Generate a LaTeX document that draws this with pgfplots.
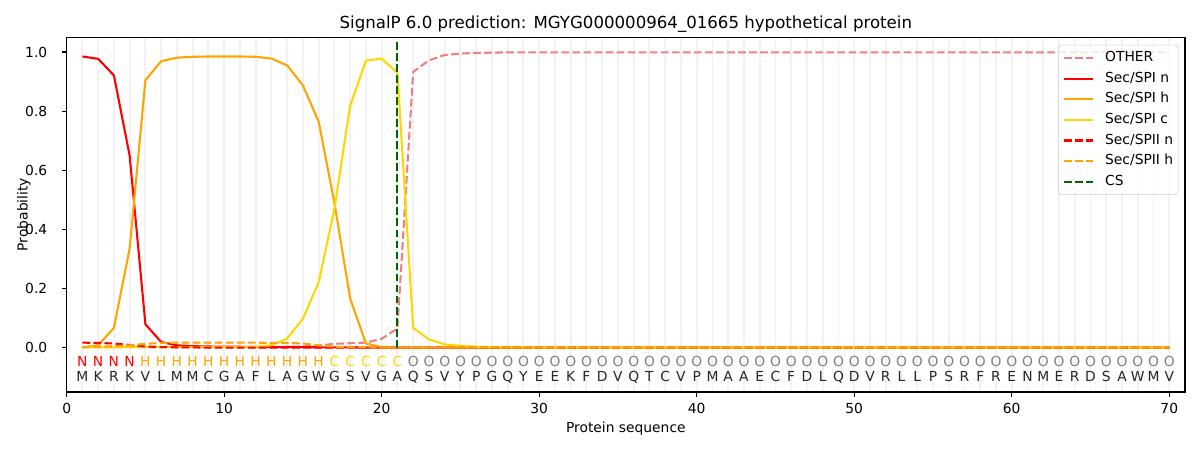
\documentclass[border=0pt]{standalone}
\usepackage{pgfplots}
\pgfplotsset{compat=1.18}
\usepackage{pgfplotstable}
\usepackage{fontspec}
\setmainfont{DejaVu Sans}
\definecolor{cOther}{RGB}{240,128,128}
\definecolor{cRed}{RGB}{255,0,0}
\definecolor{cOrange}{RGB}{255,165,0}
\definecolor{cGold}{RGB}{255,215,0}
\definecolor{cGreen}{RGB}{0,100,0}
\definecolor{cGrayO}{RGB}{128,128,128}
\newcommand{\lblfont}{\fontsize{10}{12}\selectfont}

\pgfplotstableread{
x other spin spih spic spiin spiih
1  0.002 0.985 0.001 0.001 0.017 0.002
2  0.002 0.977 0.008 0.001 0.016 0.003
3  0.002 0.921 0.067 0.001 0.014 0.005
4  0.002 0.649 0.336 0.002 0.009 0.008
5  0.002 0.079 0.905 0.002 0.004 0.013
6  0.002 0.019 0.969 0.002 0.002 0.016
7  0.002 0.008 0.981 0.002 0.001 0.017
8  0.002 0.005 0.984 0.002 0.001 0.017
9  0.002 0.004 0.985 0.002 0.000 0.017
10 0.002 0.003 0.985 0.002 0.000 0.017
11 0.002 0.003 0.985 0.002 0.000 0.017
12 0.002 0.002 0.984 0.003 0.000 0.017
13 0.002 0.002 0.978 0.008 0.000 0.016
14 0.003 0.002 0.955 0.031 0.000 0.016
15 0.004 0.002 0.887 0.098 0.000 0.014
16 0.007 0.001 0.764 0.221 0.000 0.008
17 0.013 0.001 0.489 0.470 0.000 0.003
18 0.015 0.001 0.166 0.819 0.000 0.001
19 0.017 0.000 0.014 0.971 0.000 0.001
20 0.030 0.000 0.002 0.978 0.000 0.000
21 0.065 0.000 0.001 0.930 0.000 0.000
22 0.933 0.000 0.000 0.067 0.000 0.000
23 0.972 0.000 0.000 0.028 0.000 0.000
24 0.990 0.000 0.000 0.011 0.000 0.000
25 0.995 0.000 0.000 0.006 0.000 0.000
26 0.997 0.000 0.000 0.003 0.000 0.000
27 0.998 0.000 0.000 0.002 0.000 0.000
28 0.999 0.000 0.000 0.001 0.000 0.000
29 0.999 0.000 0.000 0.001 0.000 0.000
30 0.999 0.000 0.000 0.000 0.000 0.000
31 0.999 0.000 0.000 0.000 0.000 0.000
32 0.999 0.000 0.000 0.000 0.000 0.000
33 0.999 0.000 0.000 0.000 0.000 0.000
34 0.999 0.000 0.000 0.000 0.000 0.000
35 0.999 0.000 0.000 0.000 0.000 0.000
36 0.999 0.000 0.000 0.000 0.000 0.000
37 0.999 0.000 0.000 0.000 0.000 0.000
38 0.999 0.000 0.000 0.000 0.000 0.000
39 0.999 0.000 0.000 0.000 0.000 0.000
40 0.999 0.000 0.000 0.000 0.000 0.000
41 0.999 0.000 0.000 0.000 0.000 0.000
42 0.999 0.000 0.000 0.000 0.000 0.000
43 0.999 0.000 0.000 0.000 0.000 0.000
44 0.999 0.000 0.000 0.000 0.000 0.000
45 0.999 0.000 0.000 0.000 0.000 0.000
46 0.999 0.000 0.000 0.000 0.000 0.000
47 0.999 0.000 0.000 0.000 0.000 0.000
48 0.999 0.000 0.000 0.000 0.000 0.000
49 0.999 0.000 0.000 0.000 0.000 0.000
50 0.999 0.000 0.000 0.000 0.000 0.000
51 0.999 0.000 0.000 0.000 0.000 0.000
52 0.999 0.000 0.000 0.000 0.000 0.000
53 0.999 0.000 0.000 0.000 0.000 0.000
54 0.999 0.000 0.000 0.000 0.000 0.000
55 0.999 0.000 0.000 0.000 0.000 0.000
56 0.999 0.000 0.000 0.000 0.000 0.000
57 0.999 0.000 0.000 0.000 0.000 0.000
58 0.999 0.000 0.000 0.000 0.000 0.000
59 0.999 0.000 0.000 0.000 0.000 0.000
60 0.999 0.000 0.000 0.000 0.000 0.000
61 0.999 0.000 0.000 0.000 0.000 0.000
62 0.999 0.000 0.000 0.000 0.000 0.000
63 0.999 0.000 0.000 0.000 0.000 0.000
64 0.999 0.000 0.000 0.000 0.000 0.000
65 0.999 0.000 0.000 0.000 0.000 0.000
66 0.999 0.000 0.000 0.000 0.000 0.000
67 0.999 0.000 0.000 0.000 0.000 0.000
68 0.999 0.000 0.000 0.000 0.000 0.000
69 0.999 0.000 0.000 0.000 0.000 0.000
70 0.999 0.000 0.000 0.000 0.000 0.000
}\probs

\pgfplotstableread{
x y l
1 -0.0635 M
2 -0.0635 K
3 -0.0635 R
4 -0.0635 K
5 -0.0635 V
6 -0.0635 L
7 -0.0635 M
8 -0.0635 M
9 -0.0635 C
10 -0.0635 G
11 -0.0635 A
12 -0.0635 F
13 -0.0635 L
14 -0.0635 A
15 -0.0635 G
16 -0.0635 W
17 -0.0635 G
18 -0.0635 S
19 -0.0635 V
20 -0.0635 G
21 -0.0635 A
22 -0.0635 Q
23 -0.0635 S
24 -0.0635 V
25 -0.0635 Y
26 -0.0635 P
27 -0.0635 G
28 -0.0635 Q
29 -0.0635 Y
30 -0.0635 E
31 -0.0635 E
32 -0.0635 K
33 -0.0635 F
34 -0.0635 D
35 -0.0635 V
36 -0.0635 Q
37 -0.0635 T
38 -0.0635 C
39 -0.0635 V
40 -0.0635 P
41 -0.0635 M
42 -0.0635 A
43 -0.0635 A
44 -0.0635 E
45 -0.0635 C
46 -0.0635 F
47 -0.0635 D
48 -0.0635 L
49 -0.0635 Q
50 -0.0635 D
51 -0.0635 V
52 -0.0635 R
53 -0.0635 L
54 -0.0635 L
55 -0.0635 P
56 -0.0635 S
57 -0.0635 R
58 -0.0635 F
59 -0.0635 R
60 -0.0635 E
61 -0.0635 N
62 -0.0635 M
63 -0.0635 E
64 -0.0635 R
65 -0.0635 D
66 -0.0635 S
67 -0.0635 A
68 -0.0635 W
69 -0.0635 M
70 -0.0635 V
}\aminos

\begin{document}
\begin{tikzpicture}
\path[use as bounding box] (0,0) rectangle (864bp,324bp);
\begin{axis}[
  at={(48bp,41.76bp)}, anchor=south west,
  scale only axis, width=805.2bp, height=255.4bp,
  xmin=0, xmax=71, ymin=-0.15, ymax=1.05,
  xtick={0,10,...,70}, ytick={0,0.2,...,1.0},
  minor xtick={1,...,70},
  xminorgrids,
  minor grid style={black!5, line width=1.4bp},
  minor tick length=0pt,
  tick align=outside, major tick length=3.5bp,
  xtick pos=bottom, ytick pos=left,
  every tick/.style={black, line width=0.8bp},
  axis line style={line width=0.8bp},
  /pgf/number format/assume math mode=true,
  ticklabel style={font=\lblfont, inner sep=0pt},
  yticklabel style={/pgf/number format/.cd, fixed, fixed zerofill, precision=1},
  xticklabel shift=4.2bp, yticklabel shift=10.3bp,
  title={SignalP 6.0 prediction: MGYG000000964\_01665 hypothetical protein},
  title style={at={(axis description cs:0.5,1.0)}, anchor=base, font=\fontsize{12}{14}\selectfont, inner sep=0pt},
  xlabel={Protein sequence},
  xlabel style={at={(axis description cs:0.5,-0.1147)}, anchor=base, font=\lblfont, inner sep=0pt},
  ylabel={Probability},
  ylabel style={at={(axis description cs:-0.035,0.5)}, anchor=base, font=\lblfont, inner sep=0pt},
  legend style={at={(1,1)}, anchor=north east, xshift=-4.8bp, yshift=-5.5bp,
    draw=black!20, fill=white, fill opacity=0.8, text opacity=1, rounded corners=2bp,
    font=\lblfont, inner xsep=3.5bp, inner ysep=2bp, column sep=8.2bp, row sep=0pt,
    nodes={inner xsep=0pt, inner ysep=2.4bp, text height=7.6bp, text depth=2.4bp, anchor=west}},
  legend cell align=left,
  legend image code/.code={\draw[#1] (0bp,0bp) -- (20.6bp,0bp);},
  every axis plot/.append style={line width=1.5bp},
  dashstyle/.style={dash pattern=on 5.55bp off 2.4bp},
]
\addplot[cOther, dashstyle] table[x=x, y=other] {\probs};
\addlegendentry{OTHER}
\addplot[cRed] table[x=x, y=spin] {\probs};
\addlegendentry{Sec/SPI n}
\addplot[cOrange] table[x=x, y=spih] {\probs};
\addlegendentry{Sec/SPI h}
\addplot[cGold] table[x=x, y=spic] {\probs};
\addlegendentry{Sec/SPI c}
\addplot[cRed, dashstyle] table[x=x, y=spiin] {\probs};
\addlegendentry{Sec/SPII n}
\addplot[cOrange, dashstyle] table[x=x, y=spiih] {\probs};
\addlegendentry{Sec/SPII h}
\addplot[cGreen, dashstyle] coordinates {(21,0) (21,1.035)};
\addlegendentry{CS}

\addplot[draw=none, mark=none, forget plot, nodes near coords, point meta=explicit symbolic,
  every node near coord/.style={anchor=base, text=cRed, font=\lblfont, inner sep=0pt}]
  table[row sep=\\, meta=l] {x y l\\ 1 -0.0635 N\\ 2 -0.0635 N\\ 3 -0.0635 N\\ 4 -0.0635 N\\};
\addplot[draw=none, mark=none, forget plot, nodes near coords, point meta=explicit symbolic,
  every node near coord/.style={anchor=base, text=cOrange, font=\lblfont, inner sep=0pt}]
  table[row sep=\\, meta=l] {x y l\\ 5 -0.0635 H\\ 6 -0.0635 H\\ 7 -0.0635 H\\ 8 -0.0635 H\\ 9 -0.0635 H\\ 10 -0.0635 H\\ 11 -0.0635 H\\ 12 -0.0635 H\\ 13 -0.0635 H\\ 14 -0.0635 H\\ 15 -0.0635 H\\ 16 -0.0635 H\\};
\addplot[draw=none, mark=none, forget plot, nodes near coords, point meta=explicit symbolic,
  every node near coord/.style={anchor=base, text=cGold, font=\lblfont, inner sep=0pt}]
  table[row sep=\\, meta=l] {x y l\\ 17 -0.0635 C\\ 18 -0.0635 C\\ 19 -0.0635 C\\ 20 -0.0635 C\\ 21 -0.0635 C\\};
\addplot[draw=none, mark=none, forget plot, nodes near coords, point meta=explicit symbolic,
  every node near coord/.style={anchor=base, text=cGrayO, font=\lblfont, inner sep=0pt}]
  table[row sep=\\, meta=l] {x y l\\
22 -0.0635 O\\ 23 -0.0635 O\\ 24 -0.0635 O\\ 25 -0.0635 O\\ 26 -0.0635 O\\ 27 -0.0635 O\\ 28 -0.0635 O\\ 29 -0.0635 O\\ 30 -0.0635 O\\
31 -0.0635 O\\ 32 -0.0635 O\\ 33 -0.0635 O\\ 34 -0.0635 O\\ 35 -0.0635 O\\ 36 -0.0635 O\\ 37 -0.0635 O\\ 38 -0.0635 O\\ 39 -0.0635 O\\ 40 -0.0635 O\\
41 -0.0635 O\\ 42 -0.0635 O\\ 43 -0.0635 O\\ 44 -0.0635 O\\ 45 -0.0635 O\\ 46 -0.0635 O\\ 47 -0.0635 O\\ 48 -0.0635 O\\ 49 -0.0635 O\\ 50 -0.0635 O\\
51 -0.0635 O\\ 52 -0.0635 O\\ 53 -0.0635 O\\ 54 -0.0635 O\\ 55 -0.0635 O\\ 56 -0.0635 O\\ 57 -0.0635 O\\ 58 -0.0635 O\\ 59 -0.0635 O\\ 60 -0.0635 O\\
61 -0.0635 O\\ 62 -0.0635 O\\ 63 -0.0635 O\\ 64 -0.0635 O\\ 65 -0.0635 O\\ 66 -0.0635 O\\ 67 -0.0635 O\\ 68 -0.0635 O\\ 69 -0.0635 O\\ 70 -0.0635 O\\};
\addplot[draw=none, mark=none, forget plot, nodes near coords, point meta=explicit symbolic,
  every node near coord/.style={anchor=base, text=black!85, font=\lblfont, inner sep=0pt}]
  table[x=x, y expr=-0.113, meta=l] {\aminos};
\end{axis}
\end{tikzpicture}
\end{document}
